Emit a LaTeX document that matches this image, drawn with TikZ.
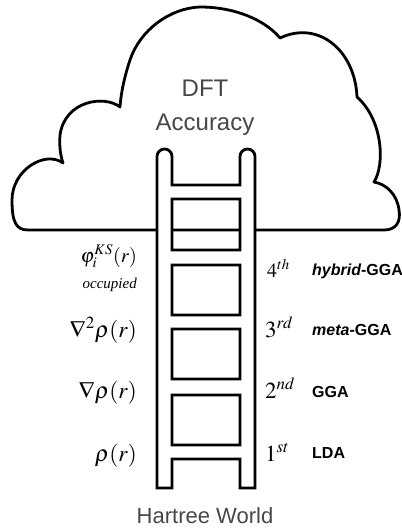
\documentclass[tikz,border=0pt]{standalone}
\usepackage{mathptmx}
\usepackage{fontspec}
\setmainfont{Liberation Serif}
\setsansfont{Liberation Sans}
\begin{document}
\begin{tikzpicture}[x=1pt,y=-1pt,
  outline/.style={line width=2.8pt,line join=round},
  railpath/.style={line width=2.8pt,line join=miter,fill=white,even odd rule},
  headline/.style={font=\sffamily\fontsize{24}{24}\selectfont,text=black!72,inner sep=0pt,anchor=base},
  quantity/.style={inner sep=0pt,anchor=base east,font=\fontsize{23}{23}\selectfont},
  rung/.style={inner sep=0pt,anchor=base west,font=\fontsize{23}{23}\selectfont},
  method/.style={inner sep=0pt,anchor=base west,font=\sffamily\bfseries\fontsize{16}{16}\selectfont}]
\useasboundingbox (0,0) rectangle (401,529);

% cloud
\draw[outline] (28,230) -- (384,230)
  .. controls (396,230) and (401,222) .. (399,210)
  .. controls (397,194) and (386,184) .. (374,182)
  .. controls (385,165) and (383,120) .. (357,97)
  .. controls (355,50) and (318,20) .. (280,38)
  .. controls (265,20) and (235,7) .. (200,7)
  .. controls (170,8) and (140,30) .. (130,60)
  .. controls (125,75) and (121,92) .. (120,107)
  .. controls (105,95) and (65,100) .. (60,135)
  .. controls (59,148) and (61,157) .. (63,163)
  .. controls (45,150) and (12,170) .. (12,200)
  .. controls (12,222) and (16,230) .. (28,230) -- cycle;

% ladder: rails with four openings between the rungs
\draw[railpath]
  (157,488) -- (157,156.5) arc[start angle=180,end angle=360,radius=7.5]
  -- (172,185) -- (240,185) -- (240,156.5) arc[start angle=180,end angle=360,radius=7.5]
  -- (255,488) -- (240,488) -- (240,459) -- (172,459) -- (172,488) -- cycle
  (172,199) rectangle (240,250)
  (172,265) rectangle (240,315)
  (172,329) rectangle (240,379)
  (172,395) rectangle (240,445);

% titles
\node[headline] (dft) at (205,97) {DFT};
\node[headline] (acc) at (205,131) {Accuracy};
\node[headline,font=\sffamily\fontsize{22}{22}\selectfont] (hartree) at (205,523) {Hartree World};

% ingredients on the left
\node[quantity,font=\fontsize{20}{20}\selectfont] (phi) at (137,262) {$\varphi_i^{KS}(r)$};
\node[quantity,font=\itshape\fontsize{15}{15}\selectfont] (occ) at (137,288) {occupied};
\node[quantity] (lap) at (137,337) {$\nabla^2\rho(r)$};
\node[quantity] (grad) at (137,398) {$\nabla\rho(r)$};
\node[quantity] (rho) at (137,461) {$\rho(r)$};

% rungs on the right
\node[rung,font=\fontsize{20}{20}\selectfont] (r4) at (267,277) {$4^{th}$};
\node[rung] (r3) at (265,337) {$3^{rd}$};
\node[rung] (r2) at (265,398) {$2^{nd}$};
\node[rung] (r1) at (265,461) {$1^{st}$};

\node[method] (hyb) at (312,275) {\itshape hybrid\upshape-GGA};
\node[method] (meta) at (312,335) {\itshape meta\upshape-GGA};
\node[method] (gga) at (312,397) {GGA};
\node[method] (lda) at (312,458) {LDA};
\end{tikzpicture}
\end{document}
